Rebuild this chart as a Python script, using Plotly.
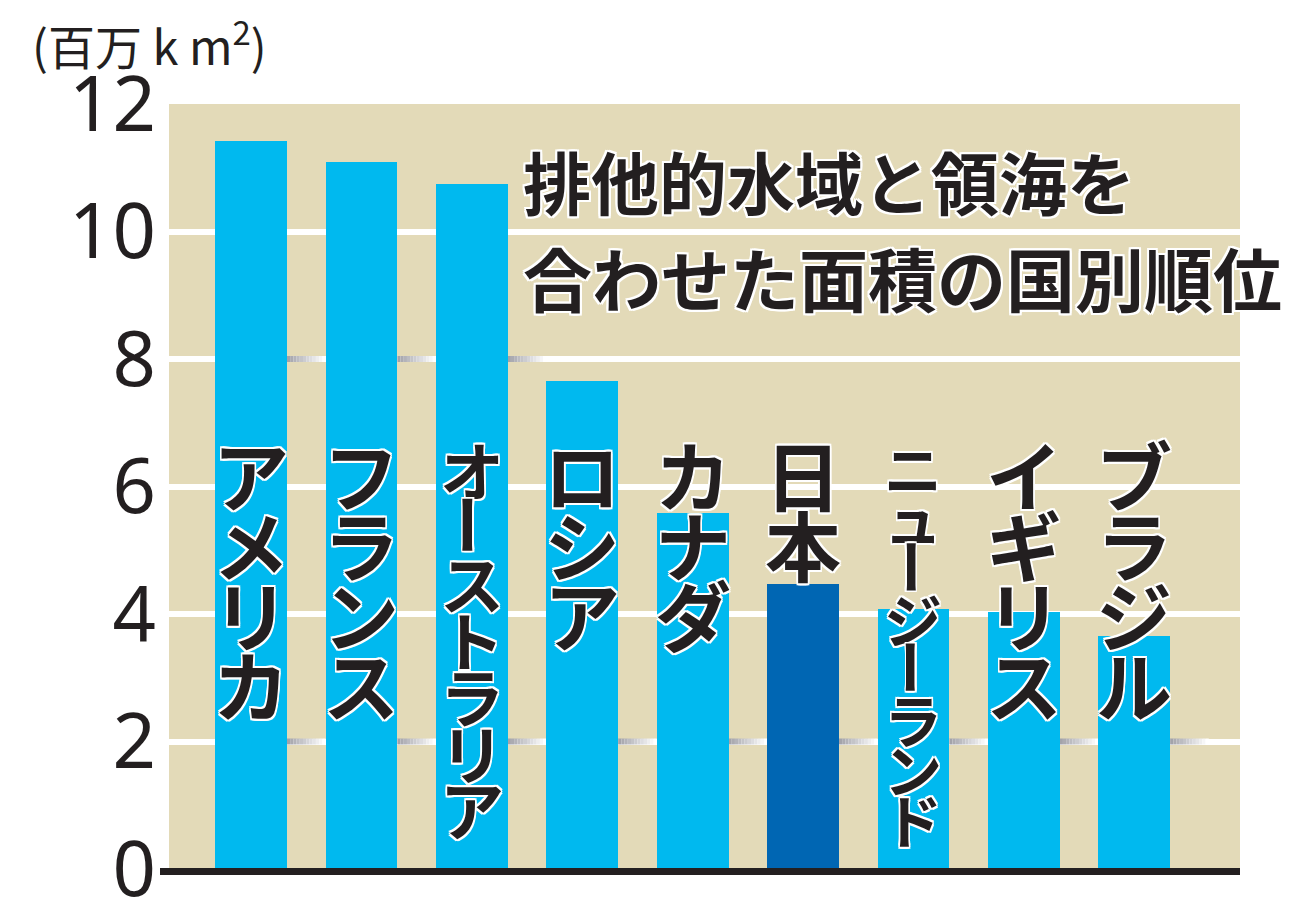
import plotly.graph_objects as go

# ---- data ----
CATEGORIES = ["アメリカ", "フランス", "オーストラリア", "ロシア", "カナダ",
              "日本", "ニュージーランド", "イギリス", "ブラジル"]
AREA = [11.42, 11.09, 10.75, 7.66, 5.59, 4.47, 4.08, 4.03, 3.66]   # 百万km²
HIGHLIGHT = "日本"
Y_TICKS = [0, 2, 4, 6, 8, 10, 12]
TITLE_LINES = ["排他的水域と領海を", "合わせた面積の国別順位"]
UNIT_LABEL = "(百万 k m<sup>2</sup>)"

# ---- style ----
CYAN = "#00B9EF"
NAVY = "#0066B3"
BEIGE = "#E3DAB8"
INK = "#231F20"
BAR_W = 0.65
JP = "Noto Sans CJK JP"
W = 1.6
OUTLINE = ", ".join(f"{dx}px {dy}px 0 #fff" for dx, dy in
                    [(-W, -W), (W, -W), (-W, W), (W, W), (0, W), (0, -W), (W, 0), (-W, 0)])
OUTLINE2 = ", ".join(f"{dx}px {dy}px 0 #fff" for dx, dy in
                     [(-2, -2), (2, -2), (-2, 2), (2, 2), (0, 2), (0, -2), (2, 0), (-2, 0)])

OFF = 8                      # page body margin
PL, PR, PT, PB = 169, 1240, 104, 869   # target plot box on screen
L, T = PL - OFF, PT - OFF
PLOT_W, PLOT_H = PR - PL, PB - PT
FIG_W, FIG_H = 1303 - OFF, 910 - OFF
R, B = FIG_W - L - PLOT_W, FIG_H - T - PLOT_H
Y_RANGE = [0, 12]
PX_PER = PLOT_H / (Y_RANGE[1] - Y_RANGE[0])


def py(screen_y):
    """screen pixel y -> paper coordinate"""
    return (PB - screen_y) / PLOT_H


def px(screen_x):
    return (screen_x - PL) / PLOT_W


colors = [NAVY if c == HIGHLIGHT else CYAN for c in CATEGORIES]

fig = go.Figure()
fig.add_trace(go.Bar(
    x=CATEGORIES, y=AREA, width=BAR_W,
    marker=dict(color=colors, line=dict(width=0)),
    hoverinfo="skip",
))

shapes = []
SHADOW_GRIDS = [8, 2]
half = 3 / PX_PER
steps = 12
for g in SHADOW_GRIDS:
    for i, v in enumerate(AREA):
        if v <= g:
            continue
        x0 = i + BAR_W / 2
        gap = 1 - BAR_W
        for s in range(steps):
            t = s / (steps - 1)
            r = int(163 + (255 - 163) * t)
            gg = int(163 + (255 - 163) * t)
            b = int(170 + (255 - 170) * t)
            shapes.append(dict(
                type="rect", xref="x", yref="y", layer="between",
                x0=x0 + gap * s / steps, x1=x0 + gap * (s + 1) / steps,
                y0=g - half, y1=g + half,
                fillcolor=f"rgb({r},{gg},{b})", line=dict(width=0)))

# baseline
shapes.append(dict(type="line", xref="paper", yref="paper",
                   x0=px(160), x1=1, y0=py(871.5), y1=py(871.5),
                   line=dict(color=INK, width=7)))

annotations = []
for i, name in enumerate(CATEGORIES):
    n = len(name)
    if n <= 4:
        pitch, fs, start = 70, 76, 473
    elif n == 7:
        pitch, fs, start = 56.5, 64, 468
    else:
        pitch, fs, start = 50.2, 58, 467
    for j, ch in enumerate(name):
        cy = start + j * pitch
        annotations.append(dict(
            x=name, xref="x", y=1, yref="paper", yanchor="middle", xanchor="center",
            yshift=-(cy - PT), text=ch, showarrow=False,
            textangle=90 if ch == "ー" else 0,
            font=dict(family=JP, size=fs, color=INK, weight=700, shadow=OUTLINE)))

for line, cy, fs in zip(TITLE_LINES, [180, 277], [68, 69]):
    annotations.append(dict(
        x=px(521), xref="paper", xanchor="left",
        y=py(cy), yref="paper", yanchor="middle",
        text=line, showarrow=False,
        font=dict(family=JP, size=fs, color=INK, weight=700, shadow=OUTLINE2)))

annotations.append(dict(
    x=px(30), xref="paper", xanchor="left",
    y=py(43), yref="paper", yanchor="middle",
    text=UNIT_LABEL, showarrow=False,
    font=dict(family=JP, size=47, color=INK)))

fig.update_layout(
    width=FIG_W, height=FIG_H, autosize=False,
    margin=dict(l=L, r=R, t=T, b=B, pad=0, autoexpand=False),
    paper_bgcolor="white", plot_bgcolor=BEIGE,
    showlegend=False, bargap=0,
    shapes=shapes, annotations=annotations,
    xaxis=dict(range=[-0.743, 8.958], showticklabels=False, showgrid=False,
               zeroline=False, showline=False, fixedrange=True, automargin=False),
    yaxis=dict(range=Y_RANGE, tickvals=Y_TICKS, ticktext=[str(v) for v in Y_TICKS],
               showgrid=True, gridcolor="white", gridwidth=6,
               zeroline=False, showline=False, ticks="",
               ticklabelstandoff=12, ticklabeloverflow="allow", automargin=False,
               tickfont=dict(family="Noto Sans", size=76, color=INK),
               fixedrange=True),
)

fig.write_html("out.html")
